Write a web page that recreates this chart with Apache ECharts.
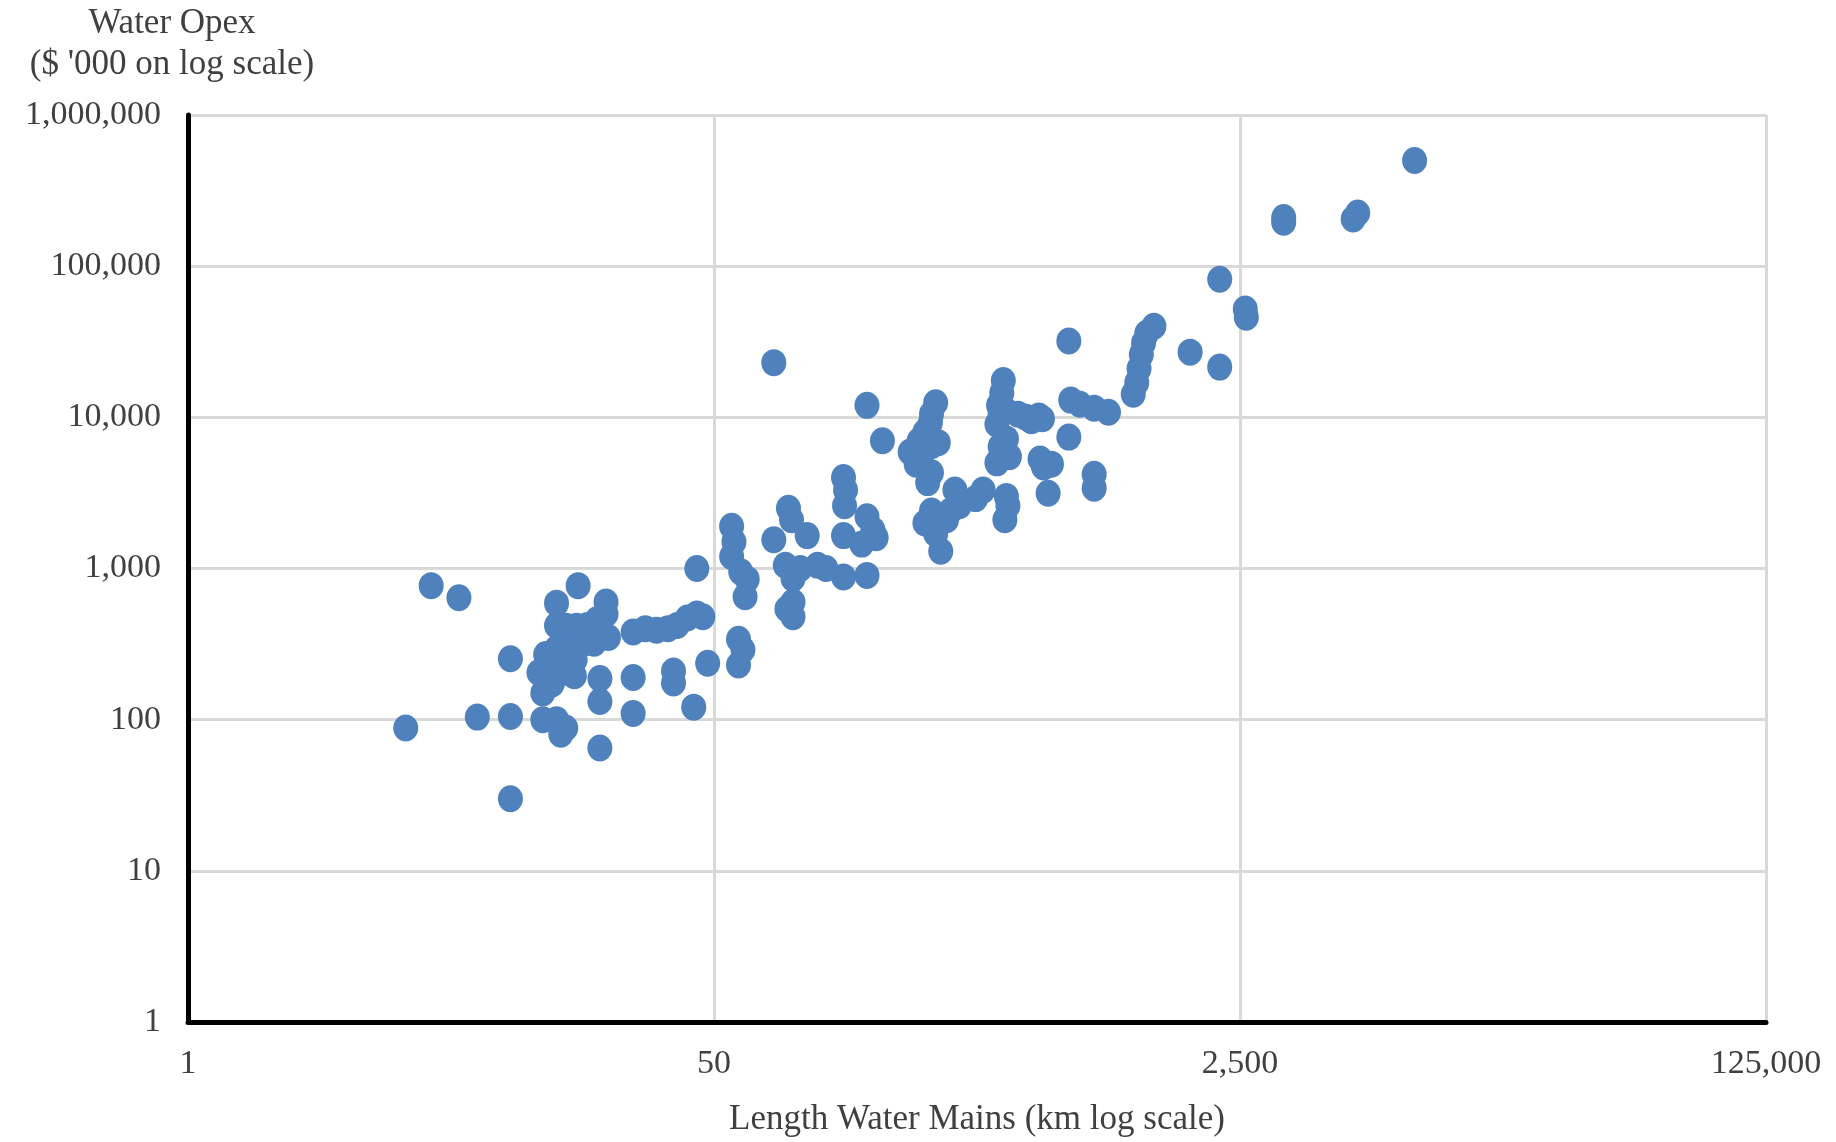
<!DOCTYPE html>
<html>
<head>
<meta charset="utf-8">
<script src="https://cdn.jsdelivr.net/npm/echarts@6/dist/echarts.min.js"></script>
<style>
html,body{margin:0;padding:0;background:#fff;}
#chart{width:1836px;height:1142px;}
</style>
</head>
<body>
<div id="chart"></div>
<script>
// Length of water mains (km)
const mainsKm = [
  9160, 3460, 3460, 6000, 5800, 2150, 2600, 2620, 2150, 1725, 1318, 1250, 1220, 1200, 1180, 1160, 1130, 700, 78,
  430, 425, 415, 420, 410, 440, 480, 510, 530, 560, 575, 710, 760, 845, 940, 700, 420, 440, 410, 450, 565, 580, 615, 845, 845, 600, 440, 445, 435, 350, 370, 300, 310, 290,
  260, 252, 250, 240, 230, 252, 235, 225, 252, 245, 265, 215, 252, 240, 260, 270, 282,
  156, 175, 131, 133, 132, 156, 163, 167, 150, 131, 131, 156,
  87, 89, 78, 100, 85, 95, 108, 115, 90, 90, 90, 86,
  57, 58, 57, 61, 64, 63, 60, 60, 62,
  44, 44, 46, 41, 38, 35.5, 32.6, 30, 27.4, 47.7, 43, 37, 37, 27.4, 27.4, 21.4, 21.4, 21.4,
  18.2, 15.5, 22.4, 22.4, 21, 19.5, 18, 16.6, 15.5, 21, 22.8, 20.5, 19, 17.7, 15.5, 14.3, 15, 13.6, 17.8, 16.3, 15, 17.7, 14, 11, 14, 15.5, 16.6, 16,
  5.05, 8.6, 11, 11, 6.1, 7.5
];
// Water opex ($'000)
const opexK = [
  500000, 210000, 195000, 225000, 205000, 82000, 52000, 46000, 21500, 27000, 40000, 36000, 31000, 26000, 21000, 17000, 14200, 32000, 23000,
  17500, 14500, 12000, 10500, 9000, 11000, 10500, 10000, 9500, 10200, 9800, 13000, 12200, 11500, 10800, 7400, 6400, 7200, 5000, 5500, 5300, 4700, 4900, 4200, 3400, 3150, 3000, 2600, 2100, 2900, 3300, 3300, 2600, 2400,
  12500, 10500, 9200, 8000, 7000, 6500, 5700, 4900, 4300, 3700, 6800, 5900, 2400, 2000, 1700, 1300, 2100,
  12000, 7000, 4000, 3300, 2600, 2200, 1800, 1600, 1450, 1650, 880, 900,
  2500, 2100, 1550, 1650, 1050, 1000, 1050, 1000, 860, 600, 480, 540,
  1900, 1500, 1200, 950, 850, 650, 340, 230, 290,
  1000, 500, 480, 470, 420, 400, 390, 400, 380, 236, 121, 210, 175, 190, 110, 65, 132, 187,
  770, 590, 600, 500, 460, 420, 415, 415, 420, 390, 350, 320, 320, 310, 295, 270, 225, 205, 250, 205, 172, 195, 150, 253, 100, 100, 88, 80,
  88, 104, 105, 30, 770, 640
];
const xTitle = 'Length Water Mains (km log scale)';
const yTitle = 'Water Opex\n($ \'000 on log scale)';

const points = mainsKm.map((x, i) => [x, opexK[i]]);
const fmt = v => Math.round(v).toLocaleString('en-US');
const textColor = '#404040';
const font = 'Liberation Serif';

const chart = echarts.init(document.getElementById('chart'));
chart.setOption({
  animation: false,
  backgroundColor: '#ffffff',
  grid: { left: 188, right: 70, top: 115, bottom: 108, containLabel: false },
  xAxis: {
    type: 'log', logBase: 50, min: 1, max: 125000,
    name: xTitle, nameLocation: 'middle', nameGap: 80,
    nameTextStyle: { color: textColor, fontFamily: font, fontSize: 35 },
    axisLine: { show: true, lineStyle: { color: '#000', width: 5 } },
    axisTick: { show: false },
    axisLabel: { color: textColor, fontFamily: font, fontSize: 34, margin: 25, formatter: fmt },
    splitLine: { show: true, lineStyle: { color: '#d9d9d9', width: 3 } },
    minorTick: { show: false }
  },
  yAxis: {
    type: 'log', logBase: 10, min: 1, max: 1000000,
    name: yTitle, nameLocation: 'end', nameGap: 30,
    nameTextStyle: { color: textColor, fontFamily: font, fontSize: 35, lineHeight: 41, align: 'center', verticalAlign: 'bottom', padding: [0, 32, 0, 0] },
    axisLine: { show: true, lineStyle: { color: '#000', width: 5 } },
    axisTick: { show: false },
    axisLabel: { color: textColor, fontFamily: font, fontSize: 34, margin: 27, formatter: fmt },
    splitLine: { show: true, lineStyle: { color: '#d9d9d9', width: 3 } }
  },
  series: [{
    type: 'scatter',
    data: points,
    symbol: 'circle',
    symbolSize: [25, 27],
    itemStyle: { color: '#4F81BD', opacity: 1 }
  }]
});
</script>
</body>
</html>
